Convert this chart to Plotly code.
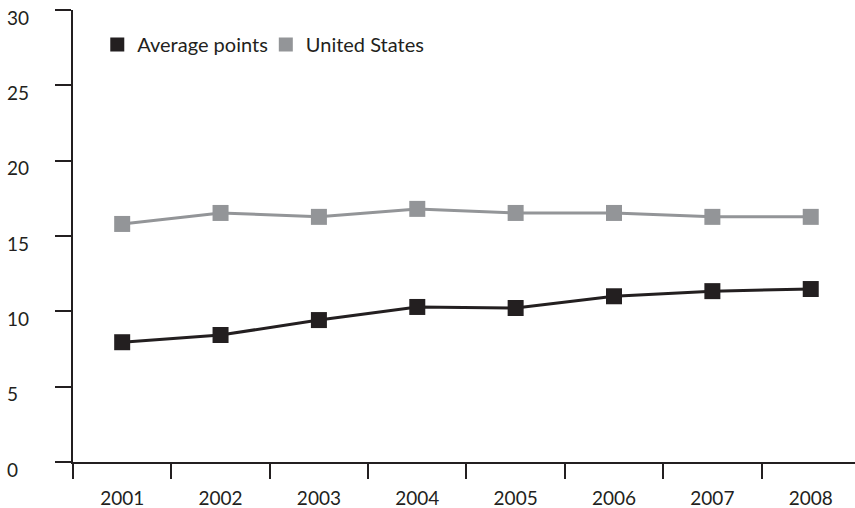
import plotly.graph_objects as go

years = ["2001", "2002", "2003", "2004", "2005", "2006", "2007", "2008"]
average_points = [7.95, 8.43, 9.42, 10.29, 10.22, 11.0, 11.34, 11.48]
united_states = [15.8, 16.53, 16.27, 16.8, 16.53, 16.53, 16.27, 16.27]
y_ticks = [0, 5, 10, 15, 20, 25, 30]

BLACK = "#231f20"
GRAY = "#939598"
FONT = "Lato"

fig = go.Figure()
fig.add_trace(go.Scatter(
    x=years, y=average_points, mode="lines+markers", name="Average points",
    line=dict(color=BLACK, width=3), marker=dict(symbol="square", size=16, color=BLACK),
    showlegend=False))
fig.add_trace(go.Scatter(
    x=years, y=united_states, mode="lines+markers", name="United States",
    line=dict(color=GRAY, width=3), marker=dict(symbol="square", size=16, color=GRAY),
    showlegend=False))
# legend-only entries (square swatches, no line)
fig.add_trace(go.Scatter(x=[None], y=[None], mode="markers", name="Average points",
                         marker=dict(symbol="square", size=14, color=BLACK)))
fig.add_trace(go.Scatter(x=[None], y=[None], mode="markers", name="United States",
                         marker=dict(symbol="square", size=14, color=GRAY)))

for v in y_ticks:
    fig.add_annotation(x=0, xref="paper", y=v, yref="y", text=str(v), showarrow=False,
                       xanchor="left", yanchor="middle", xshift=-68, yshift=-7,
                       font=dict(family=FONT, size=19, color=BLACK))

fig.update_layout(
    width=855, height=508,
    margin=dict(l=73, r=0, t=10, b=46),
    paper_bgcolor="white", plot_bgcolor="white",
    font=dict(family=FONT, size=19, color=BLACK),
    legend=dict(orientation="h", x=0.040, xanchor="left", y=0.967, yanchor="top",
                font=dict(family=FONT, size=20, color=BLACK), itemwidth=30,
                indentation=-7, bgcolor="rgba(0,0,0,0)"),
    xaxis=dict(type="category", range=[-0.5, 7.45], showgrid=False, zeroline=False,
               showline=True, linecolor=BLACK, linewidth=1.5,
               ticks="outside", tickson="boundaries", ticklen=15, tickwidth=1.5,
               tickcolor=BLACK, ticklabelstandoff=18,
               tickfont=dict(family=FONT, size=19, color=BLACK)),
    yaxis=dict(range=[0, 30], tickvals=y_ticks, showticklabels=False, showgrid=False,
               zeroline=False, showline=True, linecolor=BLACK, linewidth=1.5,
               ticks="outside", ticklen=16, tickwidth=1.5, tickcolor=BLACK),
)

fig.write_html("out.html", config={"displayModeBar": False},
               post_script="document.body.style.margin='0';document.body.style.overflow='hidden';")
